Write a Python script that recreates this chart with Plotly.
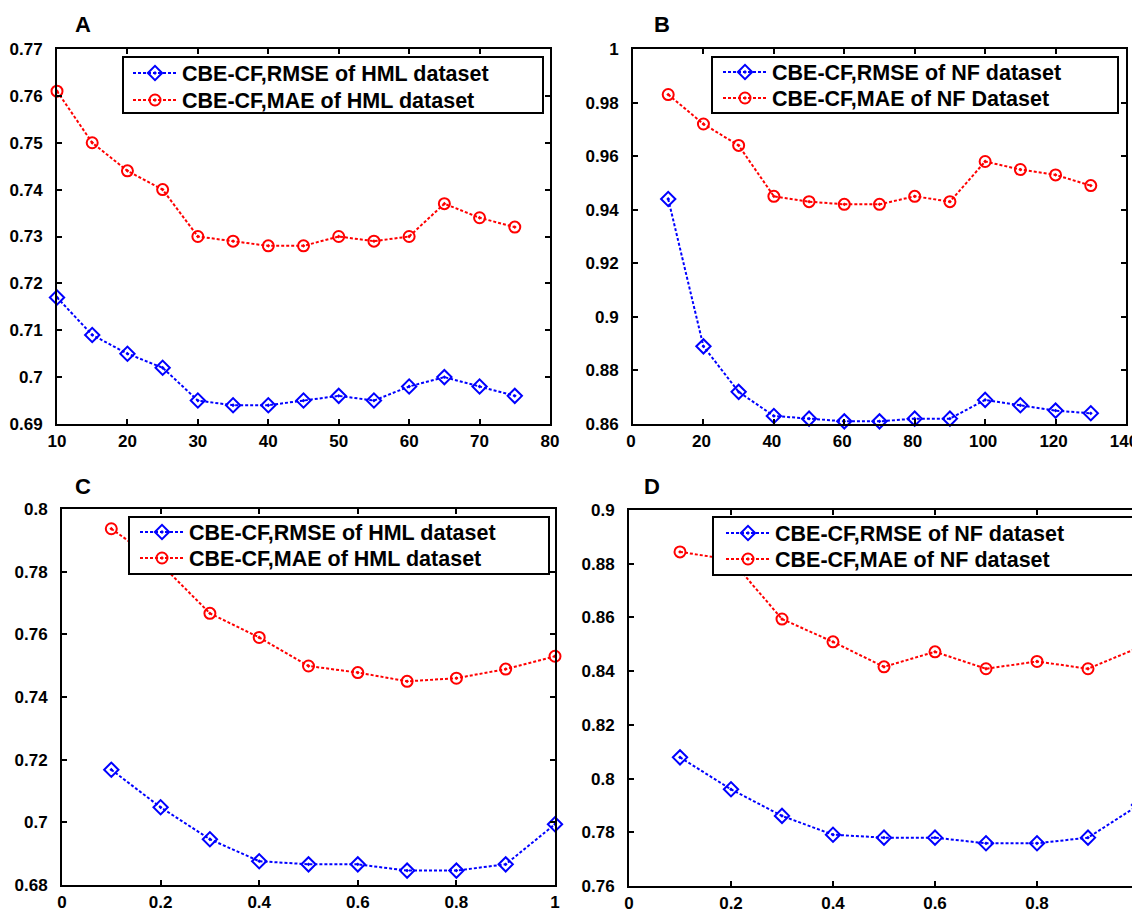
import plotly.graph_objects as go

# ---------------- data ----------------
a_x = [10, 15, 20, 25, 30, 35, 40, 45, 50, 55, 60, 65, 70, 75]
a_rmse = [0.717, 0.709, 0.705, 0.702, 0.695, 0.694, 0.694, 0.695, 0.696, 0.695, 0.698, 0.700, 0.698, 0.696]
a_mae = [0.761, 0.750, 0.744, 0.740, 0.730, 0.729, 0.728, 0.728, 0.730, 0.729, 0.730, 0.737, 0.734, 0.732]

b_x = [10, 20, 30, 40, 50, 60, 70, 80, 90, 100, 110, 120, 130]
b_rmse = [0.944, 0.889, 0.872, 0.863, 0.862, 0.861, 0.861, 0.862, 0.862, 0.869, 0.867, 0.865, 0.864]
b_mae = [0.983, 0.972, 0.964, 0.945, 0.943, 0.942, 0.942, 0.945, 0.943, 0.958, 0.955, 0.953, 0.949]

c_x = [0.1, 0.2, 0.3, 0.4, 0.5, 0.6, 0.7, 0.8, 0.9, 1.0]
c_rmse = [0.7168, 0.7048, 0.6946, 0.6876, 0.6866, 0.6866, 0.6846, 0.6846, 0.6866, 0.6994]
c_mae = [0.7937, 0.7825, 0.7667, 0.7590, 0.7499, 0.7478, 0.7450, 0.7460, 0.7489, 0.7530]

d_x = [0.1, 0.2, 0.3, 0.4, 0.5, 0.6, 0.7, 0.8, 0.9, 1.0]
d_rmse = [0.8079, 0.7960, 0.7861, 0.7791, 0.7780, 0.7780, 0.7759, 0.7759, 0.7780, 0.7902]
d_mae = [0.8844, 0.8815, 0.8594, 0.8509, 0.8416, 0.8472, 0.8409, 0.8436, 0.8409, 0.8488]

a_xticks = [10, 20, 30, 40, 50, 60, 70, 80]
a_yticks = [0.69, 0.70, 0.71, 0.72, 0.73, 0.74, 0.75, 0.76, 0.77]
a_ylabels = ["0.69", "0.7", "0.71", "0.72", "0.73", "0.74", "0.75", "0.76", "0.77"]

b_xticks = [0, 20, 40, 60, 80, 100, 120, 140]
b_yticks = [0.86, 0.88, 0.90, 0.92, 0.94, 0.96, 0.98, 1.0]
b_ylabels = ["0.86", "0.88", "0.9", "0.92", "0.94", "0.96", "0.98", "1"]

cd_xticks = [0, 0.2, 0.4, 0.6, 0.8, 1.0]
cd_xlabels = ["0", "0.2", "0.4", "0.6", "0.8", "1"]
c_yticks = [0.68, 0.70, 0.72, 0.74, 0.76, 0.78, 0.80]
c_ylabels = ["0.68", "0.7", "0.72", "0.74", "0.76", "0.78", "0.8"]
d_yticks = [0.76, 0.78, 0.80, 0.82, 0.84, 0.86, 0.88, 0.90]
d_ylabels = ["0.76", "0.78", "0.8", "0.82", "0.84", "0.86", "0.88", "0.9"]

names = {
    "A": ("CBE-CF,RMSE of HML dataset", "CBE-CF,MAE of HML dataset"),
    "B": ("CBE-CF,RMSE of NF dataset", "CBE-CF,MAE of NF Dataset"),
    "C": ("CBE-CF,RMSE of HML dataset", "CBE-CF,MAE of HML dataset"),
    "D": ("CBE-CF,RMSE of NF dataset", "CBE-CF,MAE of NF dataset"),
}

# ---------------- layout geometry (page pixels) ----------------
OFF = 8  # page body margin of the browser
W, H = 1140 - OFF, 910 - OFF  # figure fits exactly inside the window
FONT = "Liberation Sans, Arial, Helvetica, sans-serif"
BLUE = "#0000FF"
RED = "#FF0000"
ITEMW = 44

panels = [
    # key, x, rmse, mae, plot box (l,t,r,b), xrange, yrange, xticks, xlabels, yticks, ylabels,
    # legend box, legend text x, legend row centres, letter pos, x label shift
    ("A", a_x, a_rmse, a_mae, (57, 49, 550, 424), [10, 80], [0.69, 0.77],
     a_xticks, [str(v) for v in a_xticks], a_yticks, a_ylabels,
     (123, 57, 543, 113), 182, (73, 100), (83, 25), 0),
    ("B", b_x, b_rmse, b_mae, (633, 49, 1126, 424), [0, 140], [0.86, 1.0],
     b_xticks, [str(v) for v in b_xticks], b_yticks, b_ylabels,
     (712, 57, 1118, 113), 772, (72, 98), (662, 25), -2),
    ("C", c_x, c_rmse, c_mae, (62, 509, 555, 885), [0, 1], [0.68, 0.8],
     cd_xticks, cd_xlabels, c_yticks, c_ylabels,
     (129, 517, 549, 574), 189, (532, 558), (83, 487), 0),
    ("D", d_x, d_rmse, d_mae, (629, 510, 1139, 886), [0, 1], [0.76, 0.9],
     cd_xticks, cd_xlabels, d_yticks, d_ylabels,
     (713, 517, 1133, 575), 775, (533, 559), (652, 487), 0),
]


def px(x):
    return (x - OFF) / W


def py(y):
    return 1 - (y - OFF) / H


fig = go.Figure()
layout = dict(
    template="none",
    width=W, height=H, margin=dict(l=0, r=0, t=0, b=0, pad=0, autoexpand=False),
    paper_bgcolor="white", plot_bgcolor="white",
    showlegend=True, shapes=[], annotations=[],
)

tickfont = dict(family=FONT, size=17, color="black", weight="bold")
legfont = dict(family=FONT, size=21.5, color="black", weight="bold")

for i, (key, xs, rmse, mae, box, xr, yr, xt, xl, yt, yl, lbox, ltx, rows, lab, xshift) in enumerate(panels):
    n = "" if i == 0 else str(i + 1)
    leg1 = "legend" if i == 0 else "legend" + str(2 * i + 1)
    leg2 = "legend" + str(2 * i + 2)
    xa, ya = "x" + n, "y" + n
    l, t, r, b = box
    fig.add_trace(go.Scatter(
        x=xs, y=rmse, name=names[key][0], xaxis=xa, yaxis=ya, legend=leg1,
        mode="lines+markers", cliponaxis=False,
        line=dict(color=BLUE, width=2, dash="3px,2px"),
        marker=dict(symbol="diamond-open-dot", size=11, color=BLUE, line=dict(width=2, color=BLUE)),
    ))
    fig.add_trace(go.Scatter(
        x=xs, y=mae, name=names[key][1], xaxis=xa, yaxis=ya, legend=leg2,
        mode="lines+markers", cliponaxis=False,
        line=dict(color=RED, width=2, dash="3px,2px"),
        marker=dict(symbol="circle-open-dot", size=11, color=RED, line=dict(width=2, color=RED)),
    ))
    common = dict(showline=True, linecolor="black", linewidth=2, mirror="ticks",
                  ticks="inside", ticklen=5, tickwidth=1.5, tickcolor="black", automargin=False,
                  showgrid=False, zeroline=False, tickfont=tickfont, ticklabeloverflow="allow")
    layout["xaxis" + n] = dict(domain=[px(l), px(r)], range=xr, anchor=ya, ticklabelstandoff=1,
                               ticklabelshift=xshift,
                               tickmode="array", tickvals=xt, ticktext=xl, **common)
    layout["yaxis" + n] = dict(domain=[py(b), py(t)], range=yr, anchor=xa, ticklabelstandoff=9,
                               tickmode="array", tickvals=yt, ticktext=yl, **common)
    lx0, ly0, lx1, ly1 = lbox
    layout["shapes"].append(dict(type="rect", xref="paper", yref="paper", layer="above",
                                 x0=px(lx0), x1=px(lx1), y0=py(ly1), y1=py(ly0),
                                 line=dict(color="black", width=2), fillcolor="white"))
    for leg, rowy in ((leg1, rows[0]), (leg2, rows[1])):
        layout[leg] = dict(x=px(ltx - ITEMW - 10), y=py(rowy), xanchor="left", yanchor="middle",
                           bgcolor="rgba(0,0,0,0)", borderwidth=0, font=legfont,
                           itemclick=False, itemwidth=ITEMW)
    layout["annotations"].append(dict(text=key, xref="paper", yref="paper",
                                      x=px(lab[0]), y=py(lab[1]), xanchor="center", yanchor="middle",
                                      showarrow=False, font=dict(family=FONT, size=22, color="black", weight="bold")))

fig.update_layout(**layout)
fig.write_html("out.html")
